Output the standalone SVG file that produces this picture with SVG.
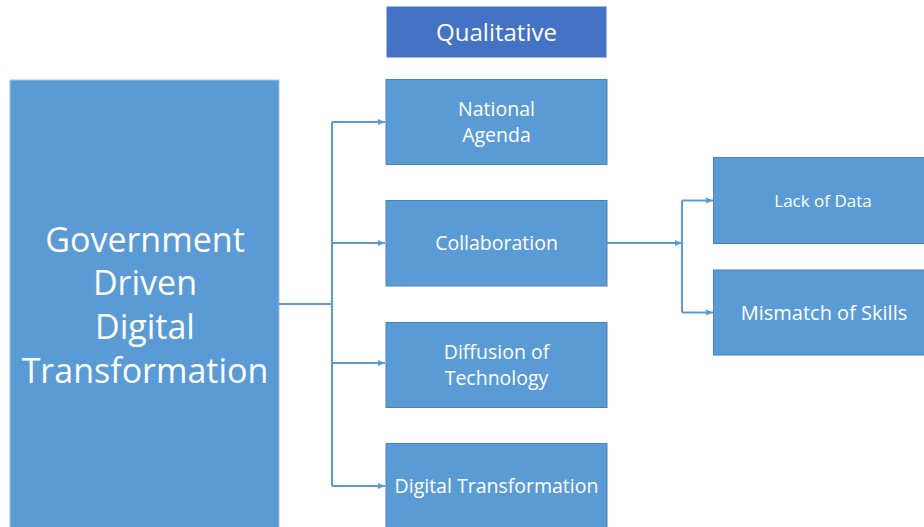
<svg xmlns="http://www.w3.org/2000/svg" width="924" height="527" viewBox="0 0 924 527">
<style>
.box{fill:#5B9BD5;stroke:#4A84B8;stroke-width:1}
.t{fill:#ffffff;font-family:"Open Sans",Lato,"Liberation Sans",sans-serif;text-anchor:middle}
.m{font-size:19.5px}
.c{fill:none;stroke:#5B9BD5;stroke-width:2}
</style>
<defs>
<marker id="ah" markerWidth="8" markerHeight="8" refX="7" refY="4" orient="auto" markerUnits="userSpaceOnUse">
<path d="M0,1 L7,4 L0,7 Z" fill="#5B9BD5"/>
</marker>
</defs>
<rect width="924" height="527" fill="#ffffff"/>
<g id="qualitative">
<rect x="387" y="7" width="219" height="50" fill="#4472C4" stroke="#4472C4"/>
<text class="t" x="496.5" y="41" font-size="24">Qualitative</text>
</g>
<g id="gov">
<rect x="10" y="80" width="269" height="450" fill="#5B9BD5" stroke="#9DC3E6" stroke-width="1"/>
<text class="t" font-size="34"><tspan x="145" y="252">Government</tspan><tspan x="145" y="295">Driven</tspan><tspan x="145" y="339">Digital</tspan><tspan x="145" y="383">Transformation</tspan></text>
</g>
<g id="national">
<rect class="box" x="386" y="79.5" width="221" height="85"/>
<text class="t m"><tspan x="496.5" y="115.6">National</tspan><tspan x="496.5" y="142.4">Agenda</tspan></text>
</g>
<g id="collab">
<rect class="box" x="386" y="200.5" width="221" height="85.5"/>
<text class="t m" x="496.5" y="250">Collaboration</text>
</g>
<g id="diffusion">
<rect class="box" x="386" y="322.5" width="221" height="85"/>
<text class="t m"><tspan x="496.5" y="358.6">Diffusion of</tspan><tspan x="496.5" y="385.4">Technology</tspan></text>
</g>
<g id="digital">
<rect class="box" x="386" y="443.5" width="221" height="90"/>
<text class="t m" x="496.5" y="493">Digital Transformation</text>
</g>
<g id="lack">
<rect class="box" x="713.5" y="157.5" width="215" height="86"/>
<text class="t" x="823" y="207" font-size="17">Lack of Data</text>
</g>
<g id="mismatch">
<rect class="box" x="713.5" y="270" width="215" height="85"/>
<text class="t" x="824" y="320" font-size="20">Mismatch of Skills</text>
</g>
<g id="connectors">
<path class="c" d="M279,304 H332"/>
<path class="c" d="M332,122 V486"/>
<path class="c" d="M332,122 H385" marker-end="url(#ah)"/>
<path class="c" d="M332,243 H385" marker-end="url(#ah)"/>
<path class="c" d="M332,363 H385" marker-end="url(#ah)"/>
<path class="c" d="M332,486 H385" marker-end="url(#ah)"/>
<path class="c" d="M607,243 H682" marker-end="url(#ah)"/>
<path class="c" d="M682,200.5 V312.5"/>
<path class="c" d="M682,200.5 H713" marker-end="url(#ah)"/>
<path class="c" d="M682,312.5 H713" marker-end="url(#ah)"/>
</g>
</svg>
